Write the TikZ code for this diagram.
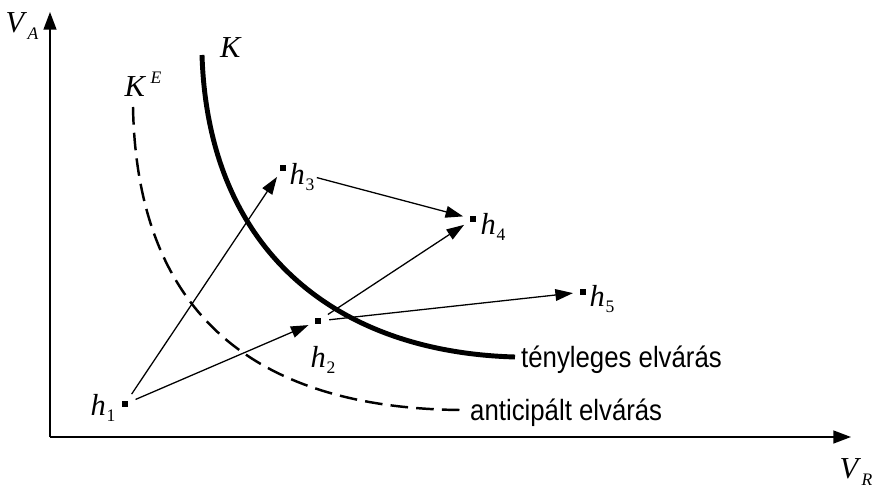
\documentclass[tikz,border=0pt]{standalone}
\usepackage{fontspec}
\setmainfont{Liberation Serif}
\newfontfamily\labfont{Liberation Sans}
\usetikzlibrary{arrows.meta}
\newcommand\lsub[2]{\textit{#1}\kern0.02em\raisebox{-0.45ex}{\fontsize{15}{15}\selectfont #2}}
\newcommand\lsup[2]{\textit{#1}\kern0.15em\raisebox{0.95ex}{\fontsize{15}{15}\selectfont #2}}
\tikzset{
  axis/.style={line width=1.3pt,-{Triangle[length=15pt,width=11pt]}},
  move/.style={line width=1.1pt,-{Triangle[length=15pt,width=10pt]},shorten <=7pt,shorten >=6pt},
  pt/.style={fill=black,inner sep=0pt,minimum size=4.8pt,rectangle},
  lbl/.style={inner sep=0pt,font=\fontsize{26}{26}\selectfont},
  txt/.style={inner sep=0pt,font=\labfont\fontsize{25}{25}\selectfont,xscale=0.88,anchor=west},
  actual/.style={line width=4.2pt},
  antic/.style={line width=2.1pt,dash pattern=on 15pt off 7pt}
}
\begin{document}
\begin{tikzpicture}[x=0.03cm,y=-0.03cm]
\useasboundingbox (0,0) rectangle (872,489);
% axes
\coordinate (O) at (50,437);
\coordinate (ytop) at (50,12);
\coordinate (xend) at (851,437);
\draw[axis] (O) -- (ytop);
\draw[axis] (O) -- (xend);
\node[lbl] (va) at (22,26) {\lsub{V}{\textit{A}}};
\node[lbl] (vr) at (856,472) {\lsub{V}{\textit{R}}};
% curves
\draw[actual] (202,55) .. controls (208,250) and (335,352) .. (515,357);
\draw[antic] (133,107) .. controls (137,320) and (262,408) .. (460,410);
\node[lbl] (K) at (231,48) {\textit{K}};
\node[lbl] (KE) at (143,84) {\lsup{K}{\textit{E}}};
\node[txt] (tl) at (521,360) {tényleges elvárás};
\node[txt] (an) at (470,413) {anticipált elvárás};
% points
\node[pt] (p1) at (125,404) {};
\node[pt] (p2) at (318,321) {};
\node[pt] (p3) at (283,168) {};
\node[pt] (p4) at (473,219) {};
\node[pt] (p5) at (583,292) {};
\node[lbl] (l1) at (103,408) {\lsub{h}{1}};
\node[lbl] (l2) at (323,360) {\lsub{h}{2}};
\node[lbl] (l3) at (302,177) {\lsub{h}{3}};
\node[lbl] (l4) at (493,227) {\lsub{h}{4}};
\node[lbl] (l5) at (602,299) {\lsub{h}{5}};
% moves
\draw[move] (p1) -- (p3);
\draw[move] (p1) -- (p2);
\draw[move,shorten <=2pt] (l3.east) -- (p4);
\draw[move] (p2) -- (p4);
\draw[move] (p2) -- (p5);
\end{tikzpicture}
\end{document}
